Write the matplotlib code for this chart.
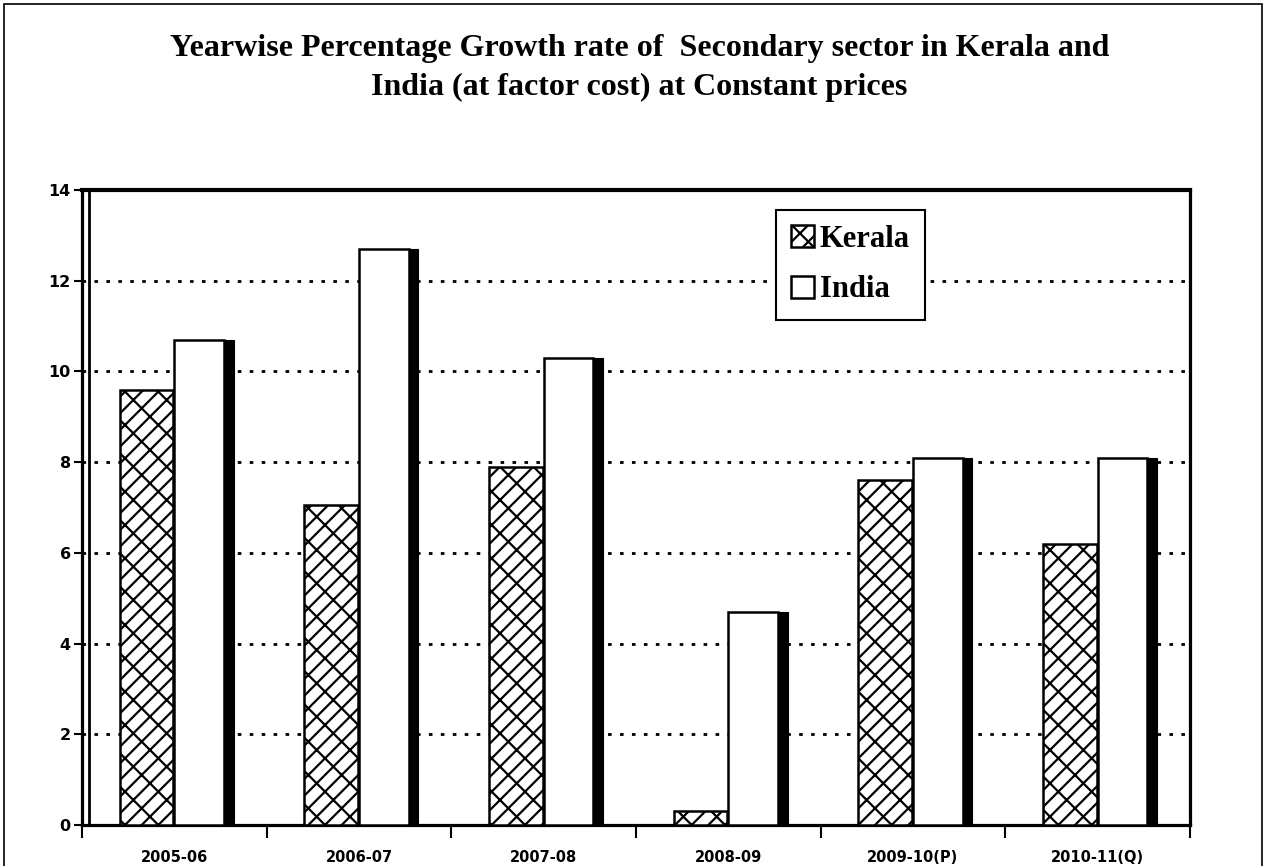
import numpy as np
import matplotlib; matplotlib.use("Agg")
import matplotlib.pyplot as plt
from matplotlib.patches import Rectangle

plt.rcParams["hatch.linewidth"] = 1.6

YEARS = ["2005-06", "2006-07", "2007-08", "2008-09", "2009-10(P)", "2010-11(Q)"]
KERALA = [9.6, 7.05, 7.9, 0.3, 7.6, 6.2]
INDIA = [10.7, 12.7, 10.3, 4.7, 8.1, 8.1]
YTICKS = [0, 2, 4, 6, 8, 10, 12, 14]
TITLE = ("Yearwise Percentage Growth rate of  Secondary sector in Kerala and\n"
         "India (at factor cost) at Constant prices")

SERIF = ["Liberation Serif", "DejaVu Serif"]

fig = plt.figure(figsize=(12.71, 8.66), dpi=100)
ax = fig.add_axes([0.0645, 0.0473, 0.8717, 0.7333])

x = np.arange(len(YEARS))
ax.bar(x - 0.15, KERALA, width=0.29, color="white", edgecolor="black",
       hatch="//\\", linewidth=1.8, zorder=3, label="Kerala")
ax.bar(x + 0.135, INDIA, width=0.27, color="white", edgecolor="black",
       linewidth=1.8, zorder=3, label="India")
# dark shadow strip on the right of the India bars
ax.bar(x + 0.297, INDIA, width=0.05, color="black", edgecolor="black",
       linewidth=0.8, zorder=3)

ax.set_xlim(-0.5, 5.5)
ax.set_ylim(0, 14)
ax.set_yticks(YTICKS)
ax.set_yticklabels([str(v) for v in YTICKS], fontweight="bold", fontsize=11.5)
for v in YTICKS[1:-1]:
    ax.axhline(v, color="black", lw=2, dashes=(1.3, 3), zorder=1)

ax.set_xticks(np.arange(-0.5, 6.0, 1.0))
ax.set_xticklabels([])
ax.set_xticks(x, minor=True)
ax.set_xticklabels(YEARS, minor=True, fontweight="bold", fontsize=10.5)
ax.tick_params(axis="x", which="major", length=9, width=1.5, direction="out")
ax.tick_params(axis="x", which="minor", length=0, pad=18)
ax.tick_params(axis="y", length=6, width=1.5, pad=2)

for s in ["left", "bottom", "right"]:
    ax.spines[s].set_linewidth(2.3)
ax.spines["top"].set_linewidth(3)
# inner double line on the left
ax.axvline(-0.5 + 0.038, color="black", lw=2, zorder=4)

leg = ax.legend(loc="upper left", bbox_to_anchor=(0.626, 0.969), frameon=True,
                fancybox=False, framealpha=1,
                prop={"family": SERIF, "weight": "bold", "size": 22},
                handlelength=0.75, handleheight=0.75, handletextpad=0.2,
                borderpad=0.5, labelspacing=0.7, borderaxespad=0)
leg.get_frame().set_edgecolor("black")
leg.get_frame().set_linewidth(1.5)
leg.set_zorder(6)

fig.text(0.503, 0.921, TITLE, ha="center", va="center", family=SERIF,
         fontweight="bold", fontsize=23, linespacing=1.45)

fig.add_artist(Rectangle((0.0031, -0.01), 0.990, 1.0054, transform=fig.transFigure,
                         fill=False, edgecolor="black", lw=1.2))

fig.savefig("out.png", dpi=100, facecolor="white")
